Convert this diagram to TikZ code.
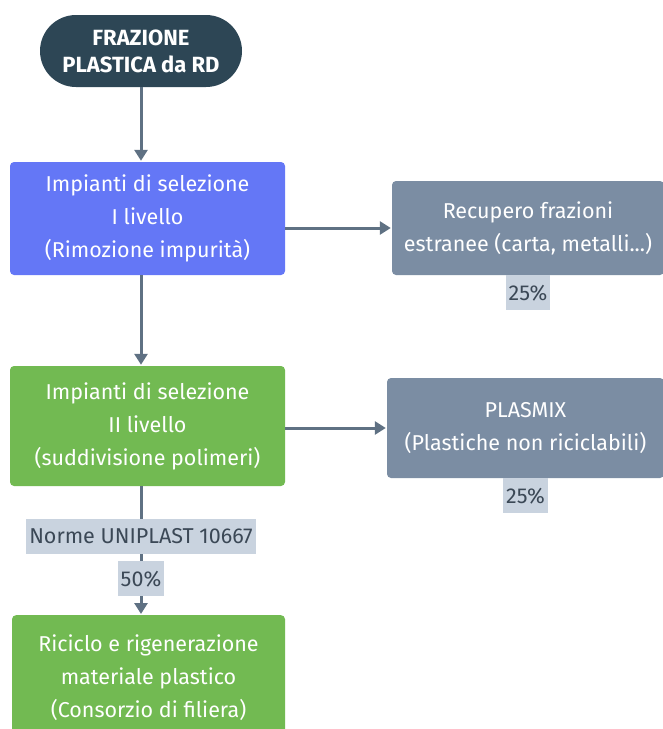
\documentclass[tikz,border=0pt]{standalone}
\usepackage{fontspec}
\setmainfont{Fira Sans}
\usetikzlibrary{arrows.meta}
\definecolor{pill}{HTML}{2D4655}
\definecolor{blubox}{HTML}{6477F6}
\definecolor{grnbox}{HTML}{72BA52}
\definecolor{gryboX}{HTML}{7B8DA3}
\definecolor{lblbg}{HTML}{C9D3DF}
\definecolor{lbltxt}{HTML}{3B4856}
\definecolor{conn}{HTML}{5F7183}

\begin{document}
\begin{tikzpicture}[x=1pt, y=-1pt,
  box/.style = {rounded corners=4pt, text=white, align=center, font=\fontsize{21.5}{33}\selectfont},
  lbl/.style = {fill=lblbg, text=lbltxt, inner xsep=3pt, inner ysep=0pt, minimum height=35pt, font=\fontsize{21.5}{26}\selectfont},
  arr/.style = {draw=conn, line width=3pt, -{Triangle[width=13pt,length=11pt]}, shorten >=1pt}]
	\useasboundingbox (0,0) rectangle (662,729);
	% start
	\node[box, fill=pill, rounded corners=36pt, minimum width=202pt, minimum height=72pt,
	  font=\fontsize{22}{27}\selectfont\bfseries] (start) at (141,51) {FRAZIONE\\PLASTICA da RD};
	% left column
	\node[box, fill=blubox, minimum width=275pt, minimum height=113pt] (sel1) at (147.5,218.5)
	  {Impianti di selezione\\I livello\\(Rimozione impurità)};
	\node[box, fill=grnbox, minimum width=275pt, minimum height=120pt] (sel2) at (147.5,426)
	  {Impianti di selezione\\II livello\\(suddivisione polimeri)};
	\node[box, fill=grnbox, minimum width=273pt, minimum height=125pt, anchor=north] (ricic) at (148.5,615)
	  {Riciclo e rigenerazione\\materiale plastico\\(Consorzio di filiera)};
	% right column
	\node[box, fill=gryboX, minimum width=272pt, minimum height=94pt] (recup) at (528,228)
	  {Recupero frazioni\\estranee (carta, metalli...)};
	\node[box, fill=gryboX, minimum width=277pt, minimum height=100pt] (plasm) at (525.5,428)
	  {PLASMIX\\(Plastiche non riciclabili)};
	\node[lbl, anchor=north] (pc1) at (recup.south) {25\%};
	\node[lbl, anchor=north] (pc2) at (plasm.south) {25\%};
	% arrows
	\coordinate (ax) at (141,0);
	\draw[arr] (start.south) -- (start.south |- sel1.north);
	\draw[arr] (sel1.south -| ax) -- (sel2.north -| ax);
	\draw[arr] (recup.west -| sel1.east) -- (recup.west);
	\draw[arr] (plasm.west -| sel2.east) -- (plasm.west);
	\draw[arr] (sel2.south -| ax) -- node[lbl, pos=.39] (norme) {Norme UNIPLAST 10667}
	  node[lbl, pos=.72] (pc3) {50\%} (ricic.north -| ax);
\end{tikzpicture}
\end{document}
